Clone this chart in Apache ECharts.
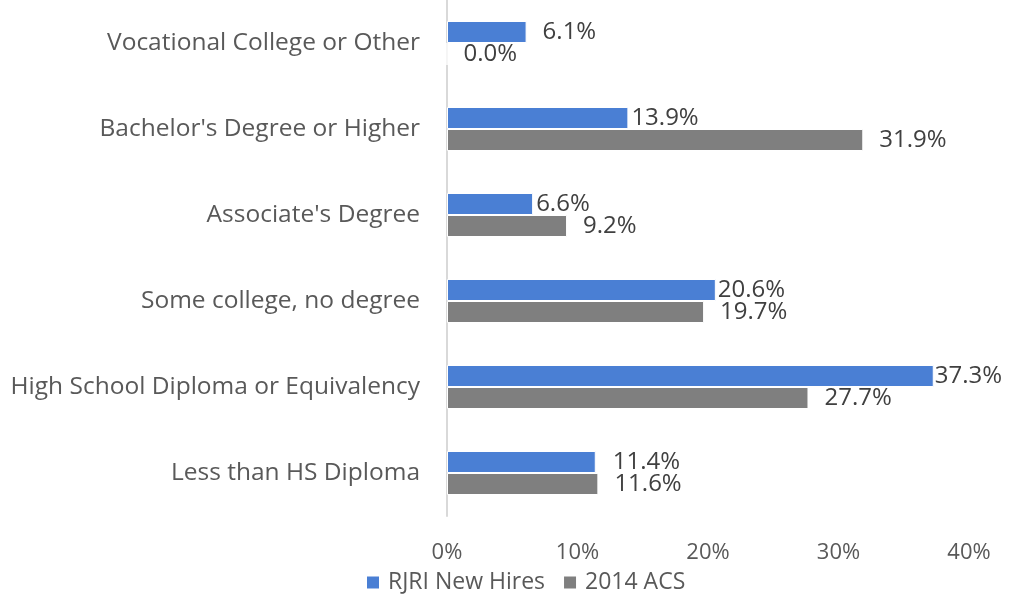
<!DOCTYPE html>
<html>
<head>
<meta charset="utf-8">
<script src="https://cdn.jsdelivr.net/npm/echarts@6/dist/echarts.min.js"></script>
<style>
  html, body { margin: 0; padding: 0; background: #fff; }
  #chart { width: 1013px; height: 594px; }
</style>
</head>
<body>
<div id="chart"></div>
<script>
// Education levels, listed top to bottom
const categories = [
  "Vocational College or Other",
  "Bachelor's Degree or Higher",
  "Associate's Degree",
  "Some college, no degree",
  "High School Diploma or Equivalency",
  "Less than HS Diploma"
];
const seriesNames = ["RJRI New Hires", "2014 ACS"];
const newHires = [6.1, 13.9, 6.6, 20.6, 37.3, 11.4];
const acs2014 = [0.0, 31.9, 9.2, 19.7, 27.7, 11.6];
const xTicks = [0, 10, 20, 30, 40];

const FONT = "'Open Sans', 'Noto Sans', sans-serif";
const TEXT = '#595959';
const VALUE_TEXT = '#404040';

// label gap after each blue bar (tight where it sits beside the grey label)
const blueGap = [16, 3, 3, 2, 1, 17];

function seriesData(values, gaps) {
  return values.map((v, i) => ({
    value: v,
    label: { distance: gaps ? gaps[i] : 16 }
  }));
}

function valueLabel() {
  return {
    show: true, position: 'right',
    formatter: p => p.value.toFixed(1) + '%',
    fontFamily: FONT, fontSize: 24, color: VALUE_TEXT
  };
}

const chart = echarts.init(document.getElementById('chart'), null, { renderer: 'canvas' });
chart.setOption({
  animation: false,
  textStyle: { fontFamily: FONT },
  grid: { left: 447, right: 44, top: 0, height: 516, containLabel: false },
  legend: {
    data: seriesNames,
    top: 566,
    left: 360,
    itemWidth: 14,
    itemHeight: 14,
    itemGap: 17,
    icon: 'rect',
    textStyle: { fontFamily: FONT, fontSize: 23, color: TEXT, padding: [0, 0, 0, 3] }
  },
  xAxis: {
    type: 'value',
    min: xTicks[0],
    max: xTicks[xTicks.length - 1],
    interval: 10,
    axisLine: { show: false },
    axisTick: { show: false },
    splitLine: { show: false },
    axisLabel: {
      formatter: v => v + '%',
      fontFamily: FONT, fontSize: 22, color: TEXT, margin: 26
    }
  },
  yAxis: {
    type: 'category',
    inverse: true,
    data: categories,
    axisLine: { show: true, lineStyle: { color: '#d9d9d9', width: 2 } },
    axisTick: { show: false },
    axisLabel: { fontFamily: FONT, fontSize: 24.5, color: TEXT, margin: 27 }
  },
  series: [
    {
      name: seriesNames[0],
      type: 'bar',
      data: seriesData(newHires, blueGap),
      barWidth: 22,
      barGap: '0%',
      itemStyle: { color: '#4a7fd4', borderColor: '#ffffff', borderWidth: 1 },
      label: valueLabel()
    },
    {
      name: seriesNames[1],
      type: 'bar',
      data: seriesData(acs2014),
      barWidth: 22,
      barGap: '0%',
      itemStyle: { color: '#7f7f7f', borderColor: '#ffffff', borderWidth: 1 },
      label: valueLabel()
    }
  ]
});
</script>
</body>
</html>
